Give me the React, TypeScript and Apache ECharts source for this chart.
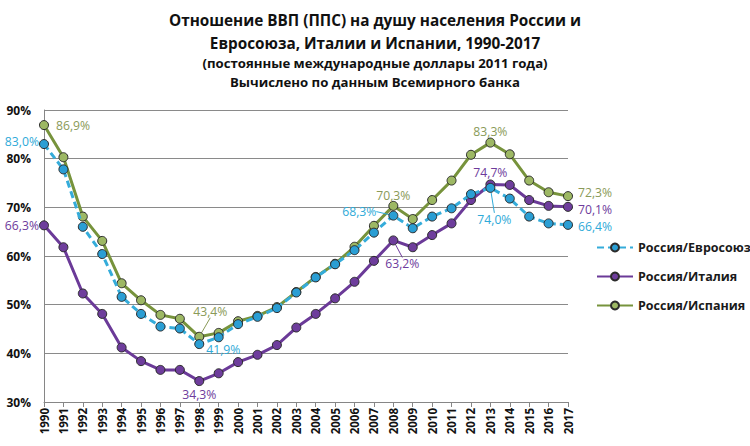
import React, { useEffect, useRef } from 'react';
import * as echarts from 'echarts';

const years = ['1990','1991','1992','1993','1994','1995','1996','1997','1998','1999','2000','2001','2002','2003','2004','2005','2006','2007','2008','2009','2010','2011','2012','2013','2014','2015','2016','2017'];

const euValues = [83.0, 77.8, 66.0, 60.4, 51.6, 48.1, 45.5, 45.1, 41.9, 43.3, 46.0, 47.5, 49.3, 52.5, 55.6, 58.3, 61.2, 64.8, 68.3, 65.7, 68.1, 69.8, 72.7, 74.0, 71.8, 68.1, 66.7, 66.4];
const italyValues = [66.3, 61.8, 52.3, 48.1, 41.2, 38.4, 36.6, 36.6, 34.3, 35.9, 38.2, 39.7, 41.7, 45.3, 48.1, 51.3, 54.7, 59.0, 63.2, 61.8, 64.3, 66.7, 71.5, 74.7, 74.6, 71.5, 70.3, 70.1];
const spainValues = [86.9, 80.3, 68.1, 63.1, 54.4, 50.9, 47.9, 47.1, 43.4, 44.2, 46.6, 47.7, 49.5, 52.6, 55.7, 58.4, 61.9, 66.2, 70.3, 67.6, 71.5, 75.5, 80.8, 83.3, 80.9, 75.5, 73.1, 72.3];

const seriesNames = ['Россия/Евросоюз', 'Россия/Италия', 'Россия/Испания'];

const titleLines = [
  'Отношение ВВП (ППС) на душу населения России и',
  'Евросоюза, Италии и Испании, 1990-2017',
  '(постоянные международные доллары 2011 года)',
  'Вычислено по данным Всемирного банка',
];

const yMin = 30;
const yMax = 90;
const yStep = 10;

type LabelSpec = {
  idx: number;
  position: string;
  distance?: number;
  move?: [number, number];
  arrow?: boolean;
};

const euLabels: LabelSpec[] = [
  { idx: 0, position: 'left', distance: 0, move: [0, -3] },
  { idx: 8, position: 'right', distance: 2, move: [0, 5] },
  { idx: 18, position: 'left', distance: 0, move: [-12, -4], arrow: true },
  { idx: 23, position: 'bottom', distance: 0, move: [4, 20], arrow: true },
  { idx: 27, position: 'right', distance: 5, move: [0, 2] },
];
const italyLabels: LabelSpec[] = [
  { idx: 0, position: 'left', distance: 0 },
  { idx: 8, position: 'bottom', distance: 2 },
  { idx: 18, position: 'bottom', distance: 0, move: [9, 12], arrow: true },
  { idx: 23, position: 'top', distance: 0 },
  { idx: 27, position: 'right', distance: 5, move: [0, 2.5] },
];
const spainLabels: LabelSpec[] = [
  { idx: 0, position: 'right', distance: 7 },
  { idx: 8, position: 'top', distance: 4, move: [11, -10], arrow: true },
  { idx: 18, position: 'top', distance: -1 },
  { idx: 23, position: 'top', distance: 0 },
  { idx: 27, position: 'right', distance: 5, move: [0, -4] },
];

const fmt = (v: number) => v.toFixed(1).replace('.', ',') + '%';

function buildData(values: number[], specs: LabelSpec[], labelColor: string) {
  return values.map((v, i) => {
    const s = specs.find((x) => x.idx === i);
    if (!s) return v;
    return {
      value: v,
      label: {
        show: true,
        position: s.position,
        distance: s.distance ?? 3,
        color: labelColor,
        fontSize: 12.2,
        lineHeight: 13,
        fontFamily: 'Open Sans',
        formatter: (p: any) => fmt(p.value),
      },
      labelLine: s.arrow ? { show: true, lineStyle: { color: labelColor, width: 1 } } : { show: false },
    };
  });
}

function layoutFor(specs: LabelSpec[]) {
  return (p: any) => {
    const s = specs.find((x) => x.idx === p.dataIndex);
    if (s && s.move) return { dx: s.move[0], dy: s.move[1] };
    return {};
  };
}

export default function App() {
  const ref = useRef<HTMLDivElement>(null);
  useEffect(() => {
    if (!ref.current) return;
    const chart = echarts.init(ref.current, undefined, { renderer: 'svg' });
    const euColor = '#35ACDA';
    const euFill = '#2A9ED4';
    const itColor = '#6B3A98';
    const itFill = '#6E3D9C';
    const spColor = '#77933C';
    const spFill = '#9DB864';
    const border = '#2B2B2B';
    const titleFont = { fontFamily: 'Open Sans', fontWeight: 'bold' as const, color: '#111' };
    chart.setOption({
      animation: false,
      backgroundColor: '#ffffff',
      title: [
        { text: titleLines[0], left: 'center', top: 5, textStyle: { ...titleFont, fontSize: 15.3, lineHeight: 20 } },
        { text: titleLines[1], left: 'center', top: 28, textStyle: { ...titleFont, fontSize: 15.3, lineHeight: 20 } },
        { text: titleLines[2], left: 'center', top: 50, textStyle: { ...titleFont, fontSize: 13.2, lineHeight: 16 } },
        { text: titleLines[3], left: 'center', top: 69, textStyle: { ...titleFont, fontSize: 13.2, lineHeight: 16 } },
      ],
      legend: {
        orient: 'vertical',
        left: 591,
        top: 236,
        itemWidth: 36,
        itemHeight: 10,
        itemGap: 16,
        textStyle: { fontFamily: 'Open Sans', fontWeight: 'bold', fontSize: 12.5, color: '#1a1a1a' },
        data: seriesNames,
      },
      grid: { left: 44, right: 182, top: 110, bottom: 44, containLabel: false },
      xAxis: {
        type: 'category',
        data: years,
        boundaryGap: false,
        axisLine: { lineStyle: { color: '#868686', width: 1 } },
        axisTick: { show: true, length: 5, alignWithLabel: true, lineStyle: { color: '#868686' } },
        axisLabel: {
          rotate: 90,
          interval: 0,
          fontFamily: 'Open Sans',
          fontWeight: 'bold',
          fontSize: 11.5,
          color: '#111',
          margin: 6,
        },
      },
      yAxis: {
        type: 'value',
        min: yMin,
        max: yMax,
        interval: yStep,
        axisLine: { show: true, lineStyle: { color: '#868686', width: 1 } },
        axisTick: { show: false },
        splitLine: { lineStyle: { color: '#8a8a8a', width: 1 } },
        axisLabel: {
          formatter: '{value}%',
          fontFamily: 'Open Sans',
          fontWeight: 'bold',
          fontSize: 12,
          lineHeight: 13,
          color: '#111',
          margin: 13,
        },
      },
      series: [
        {
          name: seriesNames[0],
          type: 'line',
          data: buildData(euValues, euLabels, '#2FAAD8'),
          symbol: 'circle',
          symbolSize: 9,
          z: 4,
          lineStyle: { color: euColor, width: 3, type: [7, 4] },
          itemStyle: { color: euFill, borderColor: border, borderWidth: 1 },
          labelLayout: layoutFor(euLabels),
        },
        {
          name: seriesNames[1],
          type: 'line',
          data: buildData(italyValues, italyLabels, '#6E3B9C'),
          symbol: 'circle',
          symbolSize: 9,
          z: 3,
          lineStyle: { color: itColor, width: 3 },
          itemStyle: { color: itFill, borderColor: border, borderWidth: 1 },
          labelLayout: layoutFor(italyLabels),
        },
        {
          name: seriesNames[2],
          type: 'line',
          data: buildData(spainValues, spainLabels, '#8A9A58'),
          symbol: 'circle',
          symbolSize: 9,
          z: 2,
          lineStyle: { color: spColor, width: 3 },
          itemStyle: { color: spFill, borderColor: border, borderWidth: 1 },
          labelLayout: layoutFor(spainLabels),
        },
      ],
    });
    return () => chart.dispose();
  }, []);
  return <div ref={ref} style={{ width: 750, height: 446, position: 'absolute', left: 0, top: 0 }} />;
}
